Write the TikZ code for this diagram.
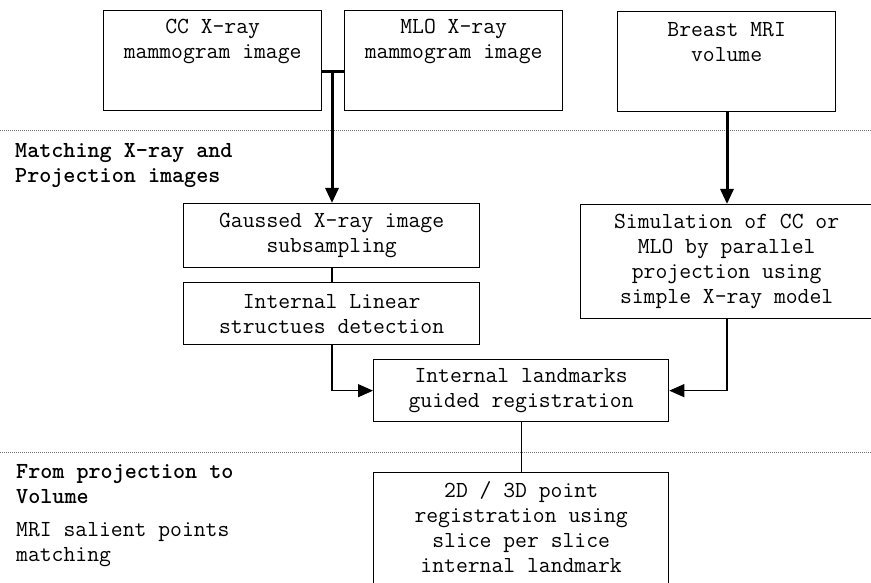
\documentclass[tikz,border=0pt]{standalone}
\usetikzlibrary{arrows.meta}

% typewriter face used for every text of the flow chart
\newcommand\diagfont{\ttfamily\fontsize{23}{25}\selectfont}

\tikzset{
  box/.style={draw, line width=1.3pt, inner sep=0pt, anchor=north west,
              align=center, font=\diagfont},
  boxtext/.style={inner sep=0pt, align=center, font=\diagfont},
  flow/.style={line width=1.3pt},
  feed/.style={line width=3pt},
  tip/.style={-{Triangle[length=15pt,width=13pt]}},
  sep/.style={draw=black!55, line width=0.8pt, dash pattern=on 1pt off 1pt},
  section/.style={anchor=west, inner sep=0pt, align=left, font=\diagfont\bfseries},
  note/.style={anchor=west, inner sep=0pt, align=left, font=\diagfont},
}

\begin{document}
\begin{tikzpicture}[x=1pt, y=-1pt]
  \useasboundingbox (0,0) rectangle (871,583);
  \fill[white] (0,0) rectangle (871,583);
  \clip (0,0) rectangle (871,583);

  % stage separators
  \draw[sep] (0,130) -- (871,130);
  \draw[sep] (0,452) -- (871,452);

  % input data
  \node[box, minimum width=218, minimum height=100] (cc)  at (103,10) {};
  \node[box, minimum width=218, minimum height=100] (mlo) at (344,10) {};
  \node[box, minimum width=218, minimum height=100] (mri) at (617,11) {};
  \node[boxtext] (cctext)  at ([yshift=-31.5]cc.north)  {CC X-ray\\mammogram image};
  \node[boxtext] (mlotext) at ([yshift=-31.5]mlo.north) {MLO X-ray\\mammogram image};
  \node[boxtext] (mritext) at ([yshift=-31.5]mri.north) {Breast MRI\\volume};

  % processing steps
  \node[box, minimum width=296, minimum height=64] (gauss)  at (183,203) {Gaussed X-ray image\\subsampling};
  \node[box, minimum width=296, minimum height=62] (linear) at (183,282) {Internal Linear\\structues detection};
  \node[box, minimum width=292, minimum height=114] (sim)   at (580,204) {Simulation of CC or\\MLO by parallel\\projection using\\simple X-ray model};
  \node[box, minimum width=295, minimum height=62] (land)   at (373,359) {Internal landmarks\\guided registration};
  \node[box, minimum width=295, minimum height=140] (pt)    at (373,472) {};
  \node[boxtext] (pttext) at ([yshift=-55.5]pt.north) {2D / 3D point\\registration using\\slice per slice\\internal landmark};

  % stage captions
  \node[section] (capA) at (15,165.5) {Matching X-ray and\\Projection images};
  \node[section] (capB) at (16,484.5) {From projection to\\Volume};
  \node[note]    (capC) at (16,544.5) {MRI salient points\\matching};

  % connectors
  \coordinate (join) at (332,72);
  \coordinate (mriaxis) at (727,0);
  \draw[feed] (cc.east |- join) -- (mlo.west |- join);
  \draw[feed, tip] (join) -- (join |- gauss.north);
  \draw[feed, tip] (mriaxis |- mri.south) -- (mriaxis |- sim.north);
  \draw[flow] (join |- gauss.south) -- (join |- linear.north);
  \draw[flow, tip] (join |- linear.south) |- (land.west);
  \draw[flow, tip] (mriaxis |- sim.south) |- (land.east);
  \draw[flow] (land.south) -- (pt.north);
\end{tikzpicture}
\end{document}
